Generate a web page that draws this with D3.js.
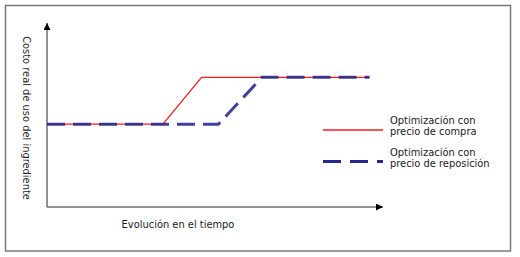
<!DOCTYPE html>
<html><head><meta charset="utf-8">
<script src="https://cdn.jsdelivr.net/npm/d3@7"></script>
<style>html,body{margin:0;padding:0;background:#fff;}</style>
</head><body>
<script>
const timeCompra = [0, 34.5, 46, 96];
const valCompra = [45, 45, 70.5, 70.5];
const timeRepo = [0, 51, 64, 96];
const valRepo = [45, 45, 70.5, 70.5];
const seriesNames = [["Optimización con", "precio de compra"], ["Optimización con", "precio de reposición"]];
const xLabel = "Evolución en el tiempo";
const yLabel = "Costo real de uso del ingrediente";

const W = 520, H = 257;
const svg = d3.select("body").append("svg").attr("width", W).attr("height", H);
const font = "DejaVu Sans";

svg.append("rect").attr("x", 5.5).attr("y", 5.5).attr("width", 505).attr("height", 245.5)
  .attr("fill", "#fff").attr("stroke", "#7a7a7a").attr("stroke-width", 1.5);

const x = d3.scaleLinear().domain([0, 100]).range([47, 383]);
const y = d3.scaleLinear().domain([0, 100]).range([207, 23]);

const defs = svg.append("defs");
defs.append("marker").attr("id", "arr").attr("viewBox", "0 0 10 10").attr("refX", 10).attr("refY", 5)
  .attr("markerWidth", 7).attr("markerHeight", 7).attr("markerUnits", "userSpaceOnUse").attr("orient", "auto")
  .append("path").attr("d", "M0,0L10,5L0,10Z").attr("fill", "#000");

svg.append("line").attr("x1", x(0)).attr("y1", y(0)).attr("x2", x(0)).attr("y2", y(100))
  .attr("stroke", "#6e6e6e").attr("stroke-width", 1.5).attr("marker-end", "url(#arr)");
svg.append("line").attr("x1", x(0)).attr("y1", y(0)).attr("x2", x(100)).attr("y2", y(0))
  .attr("stroke", "#6e6e6e").attr("stroke-width", 1.5).attr("marker-end", "url(#arr)");

const line = d3.line().x(d => x(d[0])).y(d => y(d[1]));
const repoPts = timeRepo.map((t, i) => [t, valRepo[i]]);
const compraPts = timeCompra.map((t, i) => [t, valCompra[i]]);

svg.append("path").attr("d", line(compraPts)).attr("fill", "none")
  .attr("stroke", "#ff1a1a").attr("stroke-width", 1.3);
svg.append("path").attr("d", line(repoPts)).attr("fill", "none")
  .attr("stroke", "#25288a").attr("stroke-width", 3).attr("stroke-dasharray", "18,8").attr("stroke-opacity", 0.88);

// legend
const lg = svg.append("g");
lg.append("line").attr("x1", 323).attr("x2", 383).attr("y1", 130).attr("y2", 130)
  .attr("stroke", "#ff1a1a").attr("stroke-width", 1.3);
lg.append("line").attr("x1", 323).attr("x2", 383).attr("y1", 161.5).attr("y2", 161.5)
  .attr("stroke", "#25288a").attr("stroke-width", 3).attr("stroke-dasharray", "18,9");
[[123.5, 0], [155.5, 1]].forEach(([yy, i]) => {
  const t = lg.append("text").attr("x", 390).attr("y", yy).attr("font-family", font)
    .attr("font-size", 9.9).attr("fill", "#1a1a1a");
  t.append("tspan").attr("x", 390).text(seriesNames[i][0]);
  t.append("tspan").attr("x", 390).attr("dy", 11.5).text(seriesNames[i][1]);
});

svg.append("text").attr("x", 178).attr("y", 228).attr("text-anchor", "middle")
  .attr("font-family", font).attr("font-size", 9.9).attr("fill", "#1a1a1a").text(xLabel);
svg.append("text").attr("transform", "translate(23,118) rotate(90)").attr("text-anchor", "middle")
  .attr("font-family", font).attr("font-size", 9.9).attr("fill", "#2a2a2a").text(yLabel);
</script>
</body></html>
